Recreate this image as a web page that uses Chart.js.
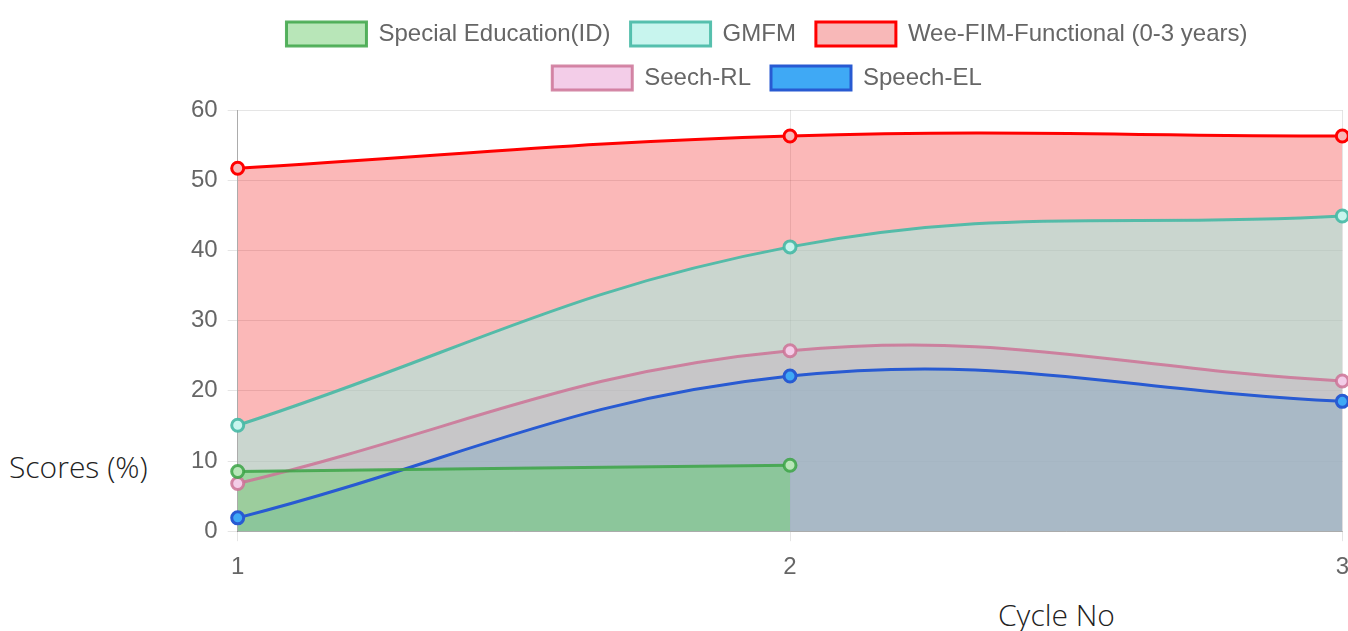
<!DOCTYPE html>
<html>
<head>
<meta charset="utf-8">
<script src="https://cdn.jsdelivr.net/npm/chart.js@4/dist/chart.umd.min.js"></script>
<style>
  body { margin: 0; overflow: hidden; background: #fff; width: 1348px; height: 631px; position: relative; }
  #wrap { position: absolute; left: 181px; top: 0; width: 1172px; height: 594px; }
  .axis-title { position: absolute; font-family: "Open Sans", sans-serif; font-weight: 300; font-size: 30px; color: #222; white-space: nowrap; }
</style>
</head>
<body>
<div class="axis-title" style="left:9px; top:446px;">Scores (%)</div>
<div class="axis-title" style="left:998px; top:594px;">Cycle No</div>
<div id="wrap"><canvas id="chart"></canvas></div>
<script>
const cycles = ['1', '2', '3'];
const specialEd = [8.5, 9.4, null];
const gmfm = [15.1, 40.5, 44.9];
const weeFim = [51.7, 56.3, 56.3];
const speechRL = [6.8, 25.7, 21.4];
const speechEL = [1.9, 22.1, 18.5];

const tickFont = { family: "'Liberation Sans', Arial, sans-serif", size: 24 };

const makeSet = (label, data, line, fill, swatch) => ({
  label: label,
  data: data,
  borderColor: line,
  backgroundColor: fill,
  swatch: swatch,
  pointBackgroundColor: swatch,
  pointBorderColor: line,
  borderWidth: 3,
  pointRadius: 6,
  pointBorderWidth: 3,
  fill: 'origin',
  tension: 0.4
});

// push the plot area down a bit under the legend
const legendGap = {
  id: 'legendGap',
  beforeInit(chart) {
    const fit = chart.legend.fit;
    chart.legend.fit = function () {
      fit.bind(chart.legend)();
      this.height += 10;
    };
  }
};

const ctx = document.getElementById('chart');
new Chart(ctx, {
  type: 'line',
  data: {
    labels: cycles,
    datasets: [
      makeSet('Special Education(ID)', specialEd, 'rgba(60,165,70,0.85)', 'rgba(110,212,112,0.49)', 'rgb(184,230,184)'),
      makeSet('GMFM', gmfm, 'rgba(70,185,165,0.9)', 'rgba(153,244,230,0.5)', 'rgb(200,245,238)'),
      makeSet('Wee-FIM-Functional (0-3 years)', weeFim, 'rgb(255,0,0)', 'rgba(240,0,0,0.28)', 'rgb(248,184,184)'),
      makeSet('Seech-RL', speechRL, 'rgba(205,115,150,0.85)', 'rgba(230,130,200,0.35)', 'rgb(243,205,232)'),
      makeSet('Speech-EL', speechEL, 'rgb(40,90,210)', 'rgba(0,150,240,0.5)', 'rgb(63,169,245)')
    ]
  },
  plugins: [legendGap],
  options: {
    responsive: true,
    maintainAspectRatio: false,
    animation: false,
    layout: { padding: { top: 2 } },
    plugins: {
      filler: { drawTime: 'beforeDatasetsDraw' },
      legend: {
        labels: {
          boxWidth: 80,
          boxHeight: 24,
          padding: 20,
          color: '#666',
          font: tickFont,
          generateLabels(chart) {
            return chart.data.datasets.map((ds, i) => ({
              text: ds.label,
              fillStyle: ds.swatch,
              strokeStyle: ds.borderColor,
              lineWidth: 3,
              fontColor: '#666',
              hidden: !chart.isDatasetVisible(i),
              datasetIndex: i
            }));
          }
        }
      },
      tooltip: { enabled: false }
    },
    scales: {
      x: {
        grid: { color: 'rgba(0,0,0,0.1)', tickLength: 10 },
        border: { color: 'rgba(0,0,0,0.25)' },
        ticks: { color: '#666', padding: 12, font: tickFont },
        afterFit(axis) {
          // tick padding also widens the side padding; take it back
          axis.paddingRight = Math.max(0, axis.paddingRight - 8);
        }
      },
      y: {
        min: 0,
        max: 60,
        grid: { color: 'rgba(0,0,0,0.1)', tickLength: 10 },
        border: { color: 'rgba(0,0,0,0.25)' },
        ticks: { stepSize: 10, color: '#666', padding: 10, font: tickFont }
      }
    }
  }
});
</script>
</body>
</html>
